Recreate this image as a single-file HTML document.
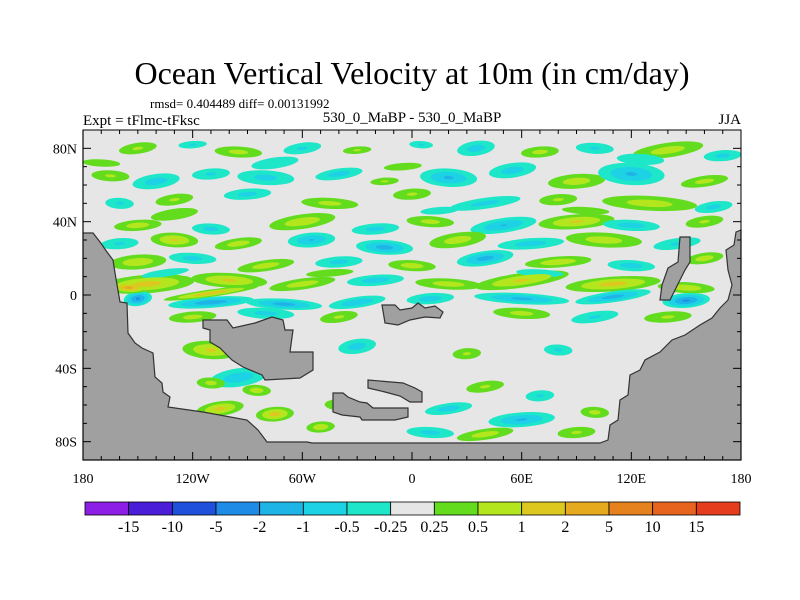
<!DOCTYPE html>
<html><head><meta charset="utf-8"><style>
body{margin:0;background:#fff}
svg{display:block;font-family:"Liberation Serif",serif}
</style></head><body>
<svg id="c" width="800" height="600" xmlns="http://www.w3.org/2000/svg">
<defs><clipPath id="clip"><rect x="83" y="130" width="658" height="330"/></clipPath></defs>
<text x="412" y="84" font-size="32" text-anchor="middle">Ocean Vertical Velocity at 10m (in cm/day)</text>
<text x="150" y="108" font-size="13">rmsd= 0.404489 diff= 0.00131992</text>
<text x="83" y="125" font-size="15">Expt = tFlmc-tFksc</text>
<text x="412" y="122" font-size="15" text-anchor="middle">530_0_MaBP - 530_0_MaBP</text>
<text x="741" y="124" font-size="15" text-anchor="end">JJA</text>
<rect x="83" y="130" width="658" height="330" fill="#e6e6e6"/>
<g id="field" clip-path="url(#clip)"></g>
<g id="land"></g>
<rect x="83" y="130" width="658" height="330" fill="none" stroke="#000" stroke-width="1"/>
<g id="axes"></g>
<g id="cbar"></g>
</svg>
<script>
// blobs: lon, lat, radius lon, radius lat, peak value
const blobLon=[-150,-120,-95,-60,-30,5,35,70,100,140,170, -165,-140,-110,-80,-40,-15,20,55,90,120,160,0, -160,-130,-90,-45,40,80,130,165, -150,-110,-60,-20,10,50,90,120,160, -160,-130,-95,-55,-15,25,65,105,145, -150,-120,-80,-40,0,40,80,120,160, -145,-100,-60,-20,20,60,110,150, -150,-110,-70,-30,10,60,110,150,-155,-110, -120,-80,-40,0,60,100,140, -110,-30,30,80, -95,-70,-85,40,70,-110, -105,-75,-40,20,60,100, -120,-50,10,40,90, -170,-75,-5,125,-130,15,95,-135,-45,70];
const blobLat=[80,82,78,80,79,82,80,78,80,79,76, 65,62,66,64,66,62,64,68,62,66,62,55, 50,52,55,50,50,52,50,48, 38,36,40,36,40,38,40,38,40, 28,30,28,30,26,30,28,30,28, 18,20,16,18,16,20,18,16,20, 6,8,6,8,6,8,6,4, -2,-4,-5,-4,-2,-2,-1,-3,4,1, -12,-10,-12,-10,-10,-12,-12, -30,-28,-32,-30, -45,-42,-52,-50,-55,-48, -62,-65,-60,-62,-68,-64, -72,-72,-75,-76,-75, 72,72,70,74,44,46,46,12,12,12];
const blobRx=[8,6,10,8,6,5,8,8,8,15,8, 8,10,8,12,10,6,12,10,12,14,10,8, 6,8,10,12,15,8,20,8, 10,8,14,10,10,14,16,12,8, 8,10,10,10,12,12,14,16,10, 12,10,12,10,10,12,14,10,8, 20,16,14,12,14,20,20,12, 6,18,16,12,10,20,16,10,8,20, 10,12,8,6,12,10,10, 12,8,6,6, 12,6,6,8,6,6, 10,8,6,10,14,6, 6,6,10,12,8, 8,10,8,10,10,8,10,10,10,10];
const blobRy=[3,2,3,3,2,2,4,3,3,4,3, 3,4,3,4,3,2,5,4,4,6,3,3, 3,3,3,3,3,3,4,3, 3,3,4,3,3,4,4,3,3, 3,4,3,4,4,4,3,4,3, 4,3,3,3,3,4,3,3,3, 5,4,3,3,3,4,4,3, 4,3,3,3,3,3,3,4,3,2, 3,3,3,2,3,3,3, 5,4,3,3, 5,3,3,3,3,3, 4,4,3,3,4,3, 3,3,3,3,3, 2,3,2,3,3,2,2,2,2,2];
const blobVal=[0.6,-0.6,0.7,-0.6,0.6,-0.6,-0.8,0.7,-0.6,0.8,-0.7, 0.6,-0.8,-0.6,-0.7,-0.8,0.6,-1.2,-0.8,0.8,-1.2,0.7,0.6, -0.6,0.6,-0.7,0.7,-0.7,0.6,0.8,-0.7, 0.8,-0.7,0.9,-0.7,0.7,-1.1,1.2,-0.8,0.6, -0.6,1.2,0.8,-1.1,-1.5,0.8,-0.8,0.8,-0.6, 0.9,-0.7,0.8,-0.7,0.8,-1.5,0.9,-0.8,0.8, 1.5,1.2,0.8,-0.8,0.8,1.2,1.5,0.9, -2.5,-1.8,-1.5,-1,-0.8,-1.3,-1.5,-2.5,3,1.8, 0.7,-0.7,0.6,0.6,0.7,-0.6,0.6, 1.2,-0.8,0.6,-0.6, -0.9,-0.7,0.8,0.6,-0.6,0.7, 1.3,1.5,0.6,-0.8,-1.2,0.7, -0.6,0.9,-0.7,0.8,0.6, 0.5,-0.5,0.5,-0.5,0.5,-0.5,0.5,-0.5,0.5,-0.5];
const levels=[0.25,0.5,1,2,5,10,15];
const posColors=["#64dc1e","#b4e61e","#dcc81e","#e6aa1e","#e6821e","#e6641e","#e63c1e"];
const negColors=["#1ee6c8","#1ed2e6","#1eb4e6","#1e8ce6","#1e50dc","#4a1ed8","#8c1ee6"];
const cbarColors=["#8c1ee6","#4a1ed8","#1e50dc","#1e8ce6","#1eb4e6","#1ed2e6","#1ee6c8","#e6e6e6","#64dc1e","#b4e61e","#dcc81e","#e6aa1e","#e6821e","#e6641e","#e63c1e"];
const cbarLabels=["-15","-10","-5","-2","-1","-0.5","-0.25","0.25","0.5","1","2","5","10","15"];
const latTicks=[80,40,0,-40,-80];
const latTickLabels=["80N","40N","0","40S","80S"];
const lonTicks=[-180,-120,-60,0,60,120,180];
const lonTickLabels=["180","120W","60W","0","60E","120E","180"];
const landPolys=[
[[83,130],[83,233],[93,233],[100,242],[107,252],[113,260],[115,273],[120,302],[127,303],[128,333],[135,343],[142,348],[153,353],[155,377],[162,383],[163,392],[170,397],[168,407],[203,412],[247,420],[258,430],[267,442],[307,442],[312,443],[600,443],[608,440],[610,425],[618,420],[620,400],[628,395],[630,375],[640,370],[645,360],[660,352],[672,340],[685,335],[700,325],[712,318],[720,308],[728,300],[732,285],[728,270],[726,250],[734,245],[736,232],[741,230],[741,460],[83,460]],
[[203,320],[227,320],[233,328],[255,323],[272,317],[283,320],[285,330],[293,330],[290,352],[313,352],[313,370],[300,378],[265,380],[262,375],[243,367],[232,360],[220,348],[210,342],[210,330],[203,328]],
[[382,305],[395,305],[400,310],[412,308],[418,303],[425,308],[435,306],[443,312],[440,318],[425,317],[410,320],[398,325],[385,323]],
[[333,393],[343,393],[348,397],[360,402],[367,403],[373,408],[408,408],[408,417],[395,420],[362,420],[360,417],[342,415],[333,412]],
[[368,380],[403,383],[415,388],[422,392],[422,402],[410,402],[400,396],[385,392],[368,388]],
[[668,268],[678,262],[680,237],[690,237],[690,262],[685,270],[675,290],[670,300],[660,300],[662,285]]];
const X0=83,W=658,Y0=130,H=330;
const xs=lon=>X0+(lon+180)/360*W;
const ys=lat=>Y0+(90-lat)/180*H;
const NS="http://www.w3.org/2000/svg";
function mk(tag,attrs,parent){const e=document.createElementNS(NS,tag);for(const k in attrs)e.setAttribute(k,attrs[k]);parent.appendChild(e);return e;}
const field=document.getElementById('field');
for(let li=0;li<levels.length;li++){
  for(let i=0;i<blobVal.length;i++){
    const v=blobVal[i],a=Math.abs(v),t=levels[li];
    if(a<=t)continue;
    const f=Math.pow(Math.log(a/t)/Math.log(a/0.25),0.8);
    const cx=xs(blobLon[i]),cy=ys(blobLat[i]);
    const rot=(i%3===0?-8:(i%3===1?-4:3));
    const e=mk('ellipse',{cx:cx,cy:cy,rx:blobRx[i]*1.3*W/360*f,ry:blobRy[i]*H/180*f,fill:(v>0?posColors:negColors)[li],transform:`rotate(${rot} ${cx} ${cy})`},field);
    
    
  }
}
const land=document.getElementById('land');
landPolys.forEach(p=>{
  const e=mk('polygon',{points:p.map(q=>q.join(',')).join(' '),fill:'#a0a0a0',stroke:'#333','stroke-width':1.2},land);
  
  
});
const ax=document.getElementById('axes');
for(let lat=-80;lat<=80;lat+=10){const y=ys(lat);const l=lat%40===0?8:4;
  mk('line',{x1:X0,x2:X0+l,y1:y,y2:y,stroke:'#000'},ax);mk('line',{x1:X0+W,x2:X0+W-l,y1:y,y2:y,stroke:'#000'},ax);}
for(let lon=-180;lon<=180;lon+=10){const x=xs(lon);const l=lon%60===0?8:4;
  mk('line',{x1:x,x2:x,y1:Y0+H,y2:Y0+H-l,stroke:'#000'},ax);mk('line',{x1:x,x2:x,y1:Y0,y2:Y0+l,stroke:'#000'},ax);}
latTicks.forEach((lat,i)=>{const t=mk('text',{x:X0-6,y:ys(lat)+5,'font-size':14,'text-anchor':'end'},ax);t.textContent=latTickLabels[i];
  });
lonTicks.forEach((lon,i)=>{const t=mk('text',{x:xs(lon),y:Y0+H+23,'font-size':14,'text-anchor':'middle'},ax);t.textContent=lonTickLabels[i];
  });
const cb=document.getElementById('cbar');
const cx0=85,cw=655,bw=cw/cbarColors.length;
cbarColors.forEach((c,i)=>{const r=mk('rect',{x:cx0+i*bw,y:502,width:bw,height:13,fill:c,stroke:'#000','stroke-width':0.8},cb);
  });
cbarLabels.forEach((s,i)=>{const t=mk('text',{x:cx0+(i+1)*bw,y:532,'font-size':16,'text-anchor':'middle'},cb);t.textContent=s;
  });
</script>
</body></html>
